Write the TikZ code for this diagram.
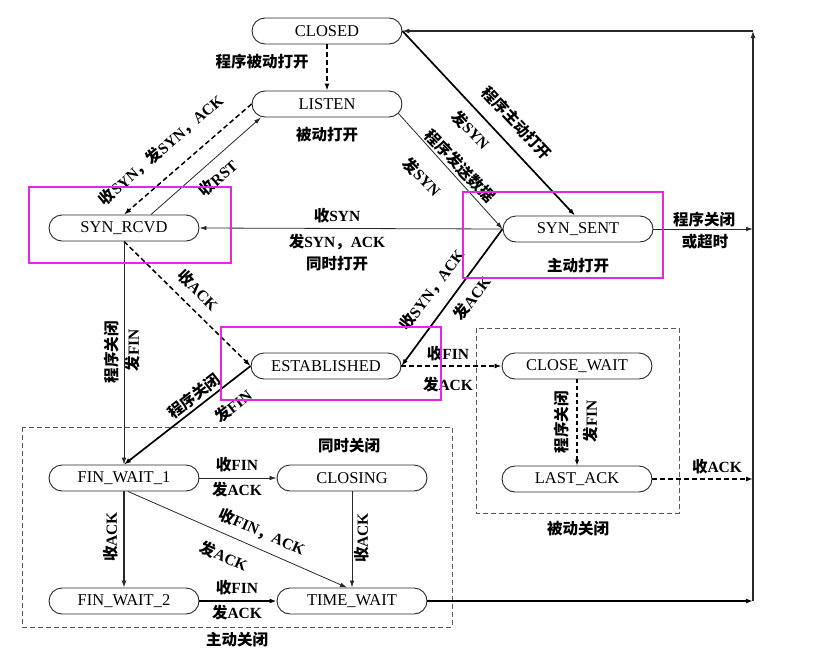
\documentclass[tikz,border=0pt]{standalone}
\usepackage{fontspec}
\setmainfont{Liberation Serif}
\newfontfamily\cjk{Noto Sans CJK SC}
\usetikzlibrary{arrows.meta,calc}
\newcommand\zh[1]{{\cjk\bfseries #1}}
\definecolor{hlc}{RGB}{232,36,232}
\definecolor{ink}{RGB}{40,40,40}
\begin{document}
\begin{tikzpicture}[x=1pt,y=-1pt,
  state/.style={draw=ink,line width=0.9pt,rounded corners=13pt,minimum width=150pt,minimum height=26pt,inner sep=0pt,font=\fontsize{16.5}{19}\selectfont},
  lbl/.style={inner sep=0pt,font=\fontsize{15.5}{19}\selectfont\bfseries,align=center},
  lnthin/.style={draw=ink,line width=0.8pt,-{Latex[length=7pt,width=4.5pt]}},
  lnmed/.style={draw=ink,line width=1.2pt,-{Latex[length=7pt,width=5pt]}},
  lnthick/.style={draw=black,line width=1.7pt,-{Latex[length=7pt,width=5pt]}},
  dsh/.style={draw=black,line width=1.5pt,dash pattern=on 5pt off 3pt,-{Latex[length=7pt,width=5pt]}},
  dshthin/.style={draw=black,line width=1.1pt,dash pattern=on 4pt off 3pt,-{Latex[length=6pt,width=4.5pt]}},
  grp/.style={draw=black!65,line width=1pt,dash pattern=on 5pt off 3pt},
  hl/.style={draw=hlc,line width=2.6pt}
]
\useasboundingbox (0,0) rectangle (816,653);

% group boxes
\draw[grp] (22,427) rectangle (452,627);
\draw[grp] (476,328) rectangle (679,513);

% states
\node[state] (CLOSED) at (327,31) {CLOSED};
\node[state] (LISTEN) at (327,104) {LISTEN};
\node[state] (SYNR) at (124,228) {SYN\_RCVD};
\node[state] (SYNS) at (578,229) {SYN\_SENT};
\node[state] (EST) at (326,366) {ESTABLISHED};
\node[state] (CW) at (577,366) {CLOSE\_WAIT};
\node[state] (LA) at (577,479) {LAST\_ACK};
\node[state] (FW1) at (124,478) {FIN\_WAIT\_1};
\node[state] (CLG) at (352,478) {CLOSING};
\node[state] (FW2) at (124,601) {FIN\_WAIT\_2};
\node[state] (TW) at (352,601) {TIME\_WAIT};

\coordinate (Rt) at (753,31);
\coordinate (Rb) at (753,601);

% connectors
\draw[dsh] (CLOSED) -- (LISTEN);
\draw[dsh] (LISTEN.west) -- (SYNR.north);
\draw[lnthin] ([xshift=27pt]SYNR.north) -- ([xshift=-66pt]LISTEN.south);
\draw[lnthin] ([xshift=-4pt,yshift=4pt]LISTEN.south east) -- (SYNS.west);
\draw[lnthick] (CLOSED.east) -- ([xshift=-3pt]SYNS.north);
\draw[lnthin] (SYNS.west) -- (SYNR.east);
\draw[lnthick] (SYNS.west) -- (EST.east);
\draw[dsh] (SYNR.south) -- (EST.west);
\draw[lnthin] (SYNR.south) -- (FW1.north);
\draw[lnthick] (EST.west) -- (FW1.north);
\draw[dsh] (EST.east) -- (CW.west);
\draw[dshthin] (CW.south) -- (LA.north);
\draw[dsh] (LA.east) -- (LA.east -| Rt);
\draw[lnthin] (FW1.east) -- (CLG.west);
\draw[lnmed] (FW1.south) -- (FW2.north);
\draw[lnthin] ([xshift=4pt]FW1.south) -- ([xshift=-5pt]TW.north);
\draw[lnthin] (CLG.south) -- (TW.north);
\draw[lnthick] (FW2.east) -- (TW.west);
\draw[lnthick] (TW.east) -- (Rb);
\draw[lnthin] (SYNS.east) -- (SYNS.east -| Rt);
\draw[lnmed] (Rb) -- (Rt);
\draw[lnmed] (Rt) -- (CLOSED.east);

% labels
\node[lbl] (l1) at (262,62) {\zh{程序被动打开}};
\node[lbl] (l2) at (327,135) {\zh{被动打开}};
\node[lbl,rotate=41] (l3) at (161,150) {\zh{收}SYN\zh{，发}SYN\zh{，}ACK};
\node[lbl,rotate=41.6] (l4) at (218,178) {\zh{收}RST};
\node[lbl,rotate=-46.8] (l5) at (517,123) {\zh{程序主动打开}};
\node[lbl,rotate=-46.8] (l6) at (471,130) {\zh{发}SYN};
\node[lbl,rotate=-46] (l7) at (460,166) {\zh{程序发送数据}};
\node[lbl,rotate=-46] (l8) at (422,177) {\zh{发}SYN};
\node[lbl] (l9) at (337,216) {\zh{收}SYN};
\node[lbl] (l10) at (337,242) {\zh{发}SYN\zh{，}ACK};
\node[lbl] (l11) at (337,264) {\zh{同时打开}};
\node[lbl] (l12) at (578,266) {\zh{主动打开}};
\node[lbl,rotate=-45] (l13) at (198,290) {\zh{收}ACK};
\node[lbl,rotate=53.3] (l14) at (432,290) {\zh{收}SYN\zh{，}ACK};
\node[lbl,rotate=53.3] (l15) at (472,298) {\zh{发}ACK};
\node[lbl] (l16) at (448,354) {\zh{收}FIN};
\node[lbl] (l17) at (448,385) {\zh{发}ACK};
\node[lbl,rotate=38] (l18) at (194,396) {\zh{程序关闭}};
\node[lbl,rotate=38] (l19) at (233,406) {\zh{发}FIN};
\node[lbl,rotate=90] (l20) at (112,352) {\zh{程序关闭}};
\node[lbl,rotate=90] (l21) at (133,350) {\zh{发}FIN};
\node[lbl,rotate=90] (l22) at (562,422) {\zh{程序关闭}};
\node[lbl,rotate=90] (l23) at (591,421) {\zh{发}FIN};
\node[lbl] (l24) at (704,220) {\zh{程序关闭}};
\node[lbl] (l25) at (705,242) {\zh{或超时}};
\node[lbl] (l26) at (717,467) {\zh{收}ACK};
\node[lbl] (l27) at (349,446) {\zh{同时关闭}};
\node[lbl] (l28) at (237,465) {\zh{收}FIN};
\node[lbl] (l29) at (237,490) {\zh{发}ACK};
\node[lbl,rotate=90] (l30) at (111,537) {\zh{收}ACK};
\node[lbl,rotate=-24] (l31) at (262,532) {\zh{收}FIN\zh{，}ACK};
\node[lbl,rotate=-24] (l32) at (224,556) {\zh{发}ACK};
\node[lbl,rotate=90] (l33) at (362,538) {\zh{收}ACK};
\node[lbl] (l34) at (237,588) {\zh{收}FIN};
\node[lbl] (l35) at (237,613) {\zh{发}ACK};
\node[lbl] (l36) at (237,640) {\zh{主动关闭}};
\node[lbl] (l37) at (578,529) {\zh{被动关闭}};

% highlight boxes
\draw[hl] (29,187) rectangle (231,263);
\draw[hl] (463,192) rectangle (663,278);
\draw[hl] (221,327) rectangle (441,400);
\end{tikzpicture}
\end{document}
